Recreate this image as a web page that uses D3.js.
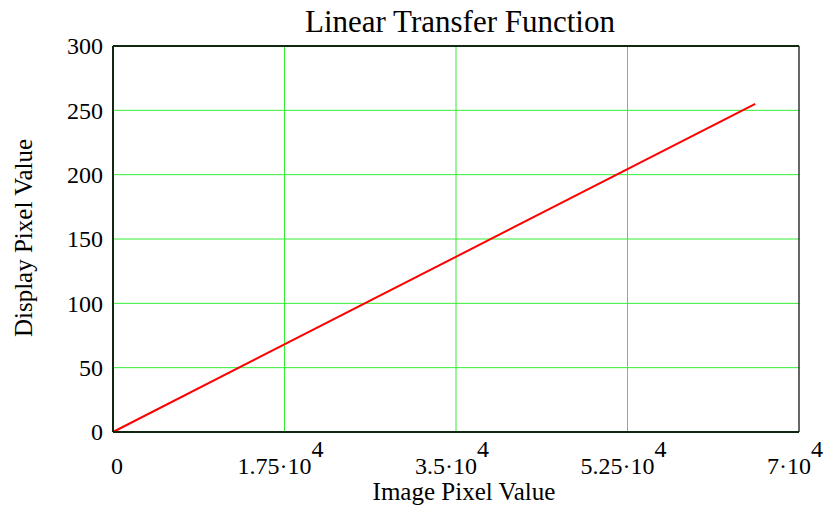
<!DOCTYPE html>
<html>
<head>
<meta charset="utf-8">
<script src="https://cdn.jsdelivr.net/npm/d3@7"></script>
<style>
  body { margin: 0; background: #fff; }
  text { font-family: "Liberation Serif", "DejaVu Serif", serif; fill: #000; }
</style>
</head>
<body>
<svg id="chart"></svg>
<script>
// values
var imageValues = [0, 65535];
var displayValues = [0, 255];
var xTicks = [0, 17500, 35000, 52500, 70000];
var xTickMantissa = ["0", "1.75", "3.5", "5.25", "7"];
var yTicks = [0, 50, 100, 150, 200, 250, 300];

var W = 840, H = 506;
var margin = {top: 46, right: 41, bottom: 74, left: 113};
var width = W - margin.left - margin.right,
    height = H - margin.top - margin.bottom;

var svg = d3.select("#chart").attr("width", W).attr("height", H);
var g = svg.append("g")
    .attr("transform", "translate(" + margin.left + "," + margin.top + ")");

var x = d3.scaleLinear().domain([0, 70000]).range([0, width]);
var y = d3.scaleLinear().domain([0, 300]).range([height, 0]);

// grid
g.selectAll(".gx").data(xTicks.slice(1, -1)).enter().append("line")
    .attr("x1", function (d) { return x(d); })
    .attr("x2", function (d) { return x(d); })
    .attr("y1", 0).attr("y2", height)
    .attr("stroke", "#33ee33").attr("stroke-width", 1);
g.selectAll(".gy").data(yTicks.slice(1, -1)).enter().append("line")
    .attr("y1", function (d) { return y(d); })
    .attr("y2", function (d) { return y(d); })
    .attr("x1", 0).attr("x2", width)
    .attr("stroke", "#33ee33").attr("stroke-width", 1);

// the line
var line = d3.line()
    .x(function (d) { return x(d[0]); })
    .y(function (d) { return y(d[1]); });
g.append("path")
    .datum(d3.zip(imageValues, displayValues))
    .attr("d", line)
    .attr("fill", "none")
    .attr("stroke", "#ff0000")
    .attr("stroke-width", 2);

// frame
g.append("line").attr("x1", width).attr("x2", width).attr("y1", 0).attr("y2", height)
    .attr("stroke", "#000").attr("stroke-width", 1.2);
g.append("line").attr("x1", 0).attr("x2", width).attr("y1", 0).attr("y2", 0)
    .attr("stroke", "#102810").attr("stroke-width", 2);
g.append("line").attr("x1", 0).attr("x2", width).attr("y1", height).attr("y2", height)
    .attr("stroke", "#102810").attr("stroke-width", 2);
g.append("line").attr("x1", 0).attr("x2", 0).attr("y1", 0).attr("y2", height)
    .attr("stroke", "#102810").attr("stroke-width", 2);

// y tick labels
g.selectAll(".yl").data(yTicks).enter().append("text")
    .attr("x", -10)
    .attr("y", function (d) { return y(d); })
    .attr("dy", "0.35em")
    .attr("text-anchor", "end")
    .style("font-size", "24px")
    .text(function (d) { return d; });

// x tick labels, mantissa·10 with superscript 4
xTicks.forEach(function (d, i) {
    var t = g.append("text")
        .attr("x", x(d) + (i == 0 ? 4 : -4))
        .attr("y", height + 42)
        .attr("text-anchor", "middle")
        .style("font-size", "24px");
    if (i == 0) {
        t.text("0");
    } else {
        t.append("tspan").text(xTickMantissa[i] + "\u00b710");
        t.append("tspan").attr("dy", -17).text("4");
    }
});

// title and axis titles
svg.append("text")
    .attr("x", 460).attr("y", 32)
    .attr("text-anchor", "middle")
    .style("font-size", "31px")
    .text("Linear Transfer Function");

svg.append("text")
    .attr("x", 464).attr("y", 500)
    .attr("text-anchor", "middle")
    .style("font-size", "25px")
    .text("Image Pixel Value");

svg.append("text")
    .attr("transform", "translate(32,238) rotate(-90)")
    .attr("text-anchor", "middle")
    .style("font-size", "25px")
    .text("Display Pixel Value");
</script>
</body>
</html>
